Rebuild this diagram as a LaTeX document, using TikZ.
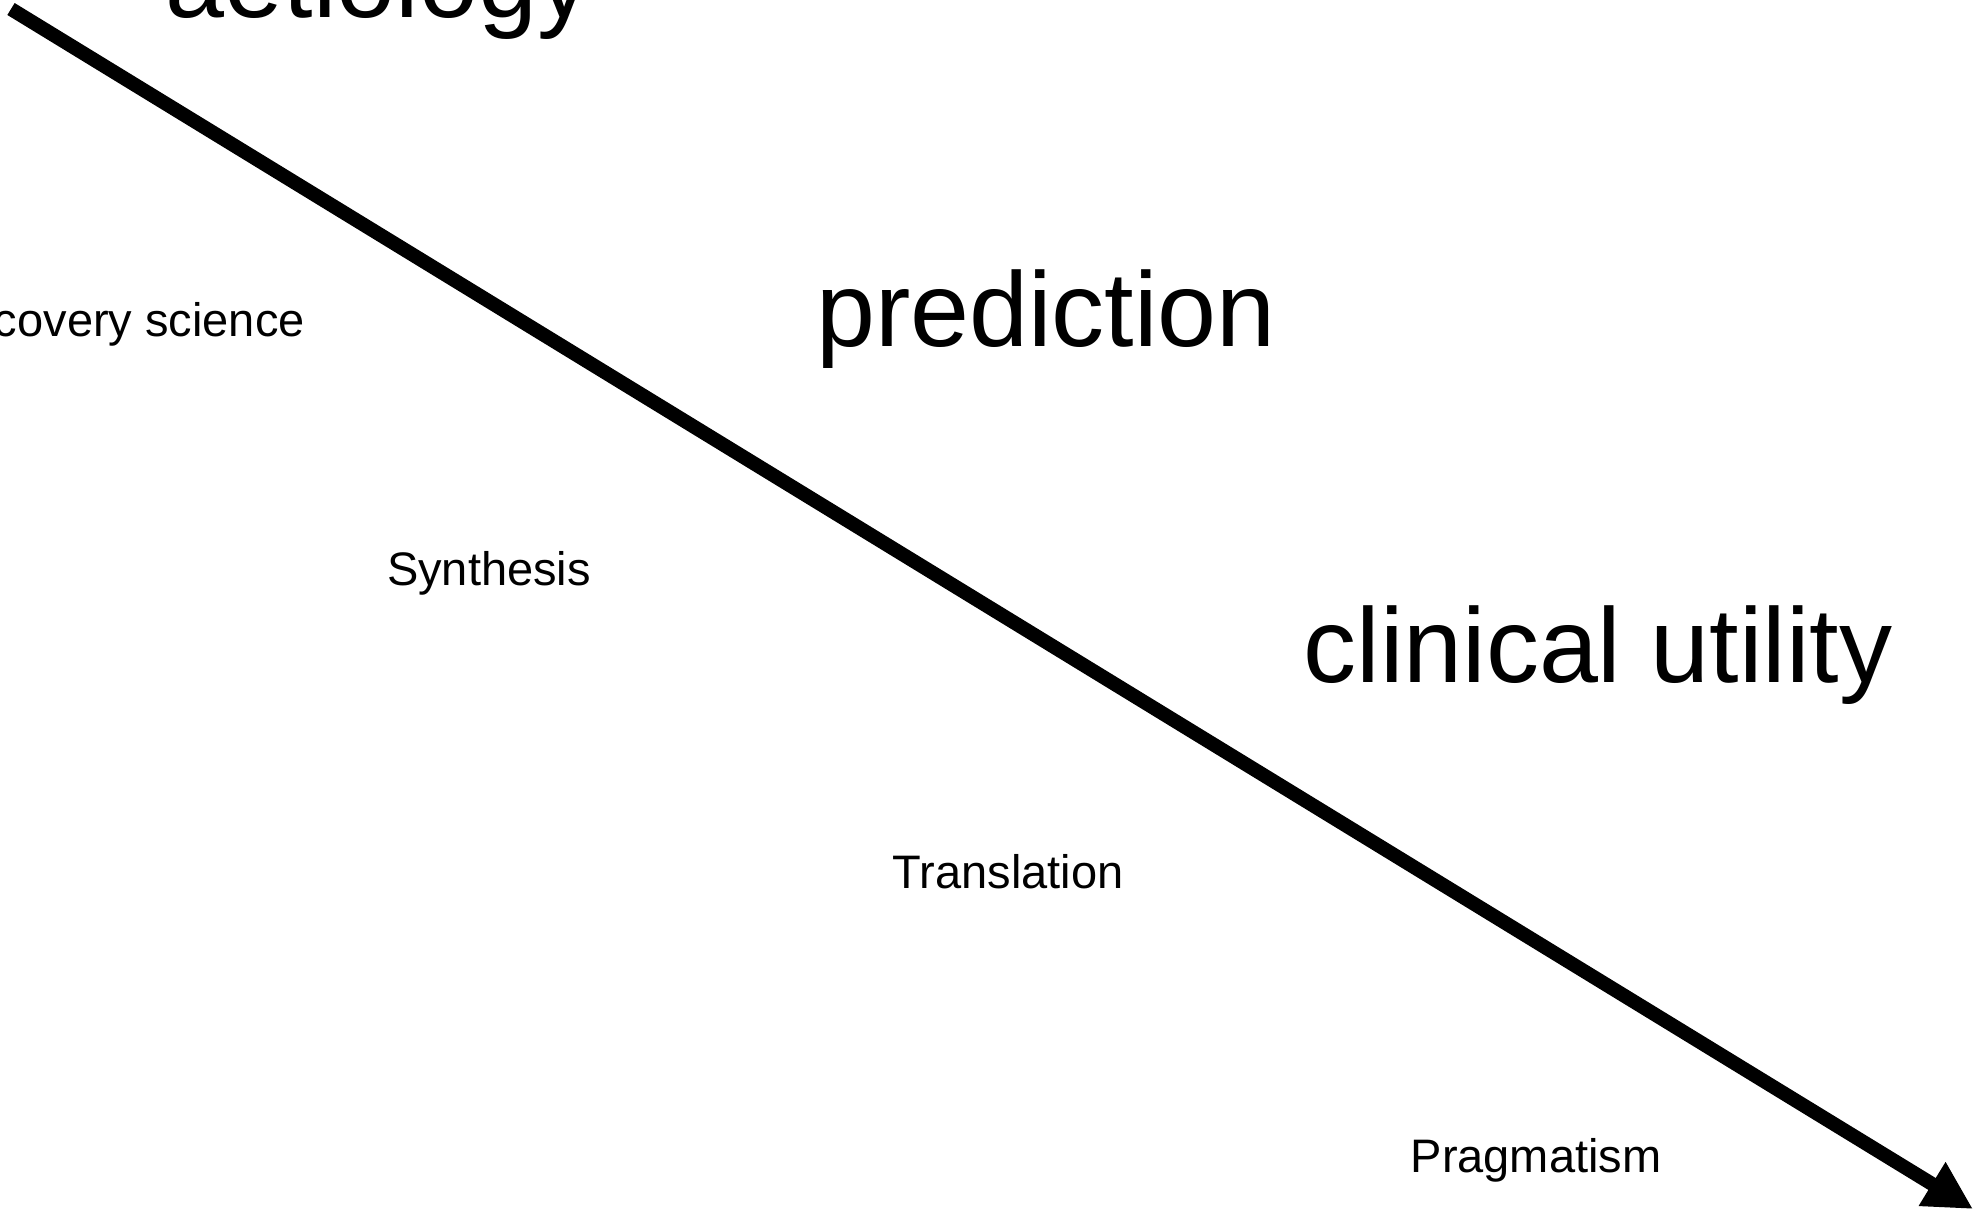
\documentclass[tikz,border=0pt]{standalone}
\usepackage{fontspec}
\setmainfont{Liberation Sans}
\usetikzlibrary{arrows.meta}
\tikzset{
  bigtxt/.style={inner sep=0pt, anchor=base, font=\fontsize{106}{120}\selectfont},
  smalltxt/.style={inner sep=0pt, anchor=base, font=\fontsize{47}{56}\selectfont},
  mainarrow/.style={line width=14pt, -{Triangle[length=48pt,width=48pt]}}
}
\begin{document}
\begin{tikzpicture}[x=1pt,y=-1pt]
\useasboundingbox (0,0) rectangle (1979,1211);
\clip (0,0) rectangle (1979,1211);
\fill[white] (0,0) rectangle (1979,1211);
\node[bigtxt] (aet) at (378,17) {aetiology};
\node[bigtxt] (pred) at (1046,346) {prediction};
\node[bigtxt] (clin) at (1598,682) {clinical utility};
\node[smalltxt, anchor=base east] (disc) at (305,336) {Discovery science};
\node[smalltxt] (syn) at (489,585) {Synthesis};
\node[smalltxt] (trans) at (1008,888) {Translation};
\node[smalltxt] (prag) at (1536,1172) {Pragmatism};
\coordinate (start) at (11,9);
\coordinate (tip) at (1973,1209);
\draw[mainarrow] (start) -- (tip);
\end{tikzpicture}
\end{document}
